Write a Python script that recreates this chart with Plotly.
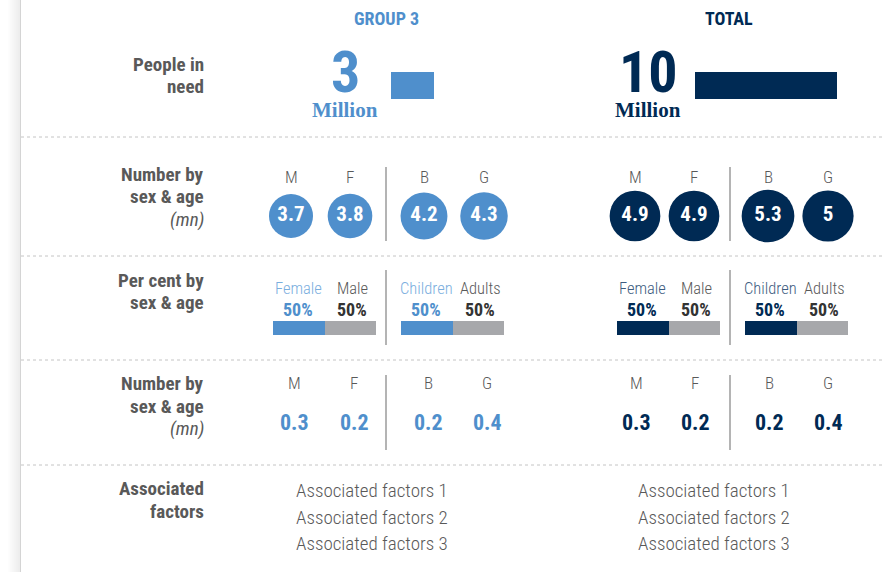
import plotly.graph_objects as go

W, H = 883, 572

# ---- data ----
GROUPS = ["GROUP 3", "TOTAL"]
PEOPLE_IN_NEED = [3, 10]  # million
SEX_AGE = ["M", "F", "B", "G"]
NUM_GROUP3 = [3.7, 3.8, 4.2, 4.3]
NUM_TOTAL = [4.9, 4.9, 5.3, 5]
PCT_LABELS = [["Female", "Male"], ["Children", "Adults"]]
PCT_GROUP3 = [[50, 50], [50, 50]]
PCT_TOTAL = [[50, 50], [50, 50]]
SMALL_GROUP3 = [0.3, 0.2, 0.2, 0.4]
SMALL_TOTAL = [0.3, 0.2, 0.2, 0.4]
FACTORS_GROUP3 = ["Associated factors 1", "Associated factors 2", "Associated factors 3"]
FACTORS_TOTAL = ["Associated factors 1", "Associated factors 2", "Associated factors 3"]
ROW_LABELS = [
    ["<b>People in</b>", "<b>need</b>"],
    ["<b>Number by</b>", "<b>sex & age</b>", "<i>(mn)</i>"],
    ["<b>Per cent by</b>", "<b>sex & age</b>"],
    ["<b>Number by</b>", "<b>sex & age</b>", "<i>(mn)</i>"],
    ["<b>Associated</b>", "<b>factors</b>"],
]

# ---- style / layout ----
BLUE = "#4f8fcc"
NAVY = "#002a54"
GREY_BAR = "#a7a8ab"
LABEL = "#595959"
COND = "Roboto Condensed, Liberation Sans Narrow, DejaVu Sans Condensed, Roboto, sans-serif"
SERIF = "Roboto Slab, Liberation Serif, serif"

group_color = [BLUE, NAVY]
hilite_color = ["#7aaede", "#3d5c80"]
header_x = [386, 729]
big_x = [345, 648]
bar_start = [391, 695]
bar_px_per_mn = 14.2
circle_x = [[291, 350, 424, 484], [635, 694, 768, 828]]
small_x = [[294, 354, 428, 487], [636, 695, 769, 828]]
sep_x = [386, 730]
pct_start = [[273, 401], [617, 745]]
pct_w = 103
factor_x = [372, 714]
row_label_y = [[64, 86], [174, 196, 219], [280, 302], [383, 406, 428], [488, 511]]
dotted_y = [137, 256, 360, 465]

nums = [NUM_GROUP3, NUM_TOTAL]
pcts = [PCT_GROUP3, PCT_TOTAL]
smalls = [SMALL_GROUP3, SMALL_TOTAL]
factors = [FACTORS_GROUP3, FACTORS_TOTAL]

fig = go.Figure()
annotations = []
shapes = []
layout_axes = {}


def ann(x, y, text, size, color, family=COND, weight=None, xanchor="center", yanchor="middle", align="center"):
    font = dict(size=size, color=color, family=family)
    if weight is not None:
        font["weight"] = weight
    annotations.append(dict(x=x, y=y, xref="x", yref="y", text=text, showarrow=False,
                            font=font, xanchor=xanchor, yanchor=yanchor, align=align))


axis_n = 2


def new_xaxis(x0_px, x1_px, rng):
    # small sub-axis placed over a pixel span, its own value scale
    global axis_n
    name = "xaxis%d" % axis_n
    layout_axes[name] = dict(domain=[x0_px / W, x1_px / W], range=rng, visible=False,
                             anchor="y", fixedrange=True)
    ref = "x%d" % axis_n
    axis_n += 1
    return ref


# left shadow
for i in range(12):
    shapes.append(dict(type="rect", xref="x", yref="y", x0=8 + i, x1=9 + i, y0=0, y1=H,
                       fillcolor="rgba(0,0,0,%.3f)" % (0.006 * (i + 1)), line_width=0, layer="below"))
shapes.append(dict(type="line", xref="x", yref="y", x0=20.5, x1=20.5, y0=0, y1=H,
                   line=dict(color="#d4d4d4", width=1)))

# dotted row separators
for y in dotted_y:
    shapes.append(dict(type="line", xref="x", yref="y", x0=21, x1=W, y0=y, y1=y,
                       line=dict(color="#c4c4c4", width=1, dash="dot")))

# row labels, one line each
for ys, lines in zip(row_label_y, ROW_LABELS):
    for y, t in zip(ys, lines):
        ann(206, y, t, 19, LABEL, xanchor="right", align="right")

for g in range(2):
    c = group_color[g]
    # header
    ann(header_x[g], 18, "<b>%s</b>" % GROUPS[g], 18, c)
    # big number + Million
    ann(big_x[g], 72, "<b>%d</b>" % PEOPLE_IN_NEED[g], 58, c)
    ann(big_x[g], 110, "<b>Million</b>", 21, c, family=SERIF)
    xr = new_xaxis(bar_start[g], bar_start[g] + 10 * bar_px_per_mn, [0, 10])
    fig.add_trace(go.Bar(x=[PEOPLE_IN_NEED[g]], y=[85.5], orientation="h", width=27,
                         marker=dict(color=c, line_width=0), xaxis=xr, yaxis="y",
                         showlegend=False, hoverinfo="skip"))

    # row 2: circles sized by area
    for x, lab in zip(circle_x[g], SEX_AGE):
        ann(x, 177, lab, 17, LABEL, weight=300)
    fig.add_trace(go.Scatter(
        x=circle_x[g], y=[216] * 4, mode="markers+text",
        marker=dict(size=nums[g], sizemode="area", sizeref=0.003814, color=c,
                    opacity=1, line_width=0),
        text=["<b>%g</b>" % v for v in nums[g]], textposition="middle center",
        textfont=dict(color="white", size=21, family=COND),
        xaxis="x", yaxis="y", showlegend=False, hoverinfo="skip", cliponaxis=False))
    shapes.append(dict(type="line", xref="x", yref="y", x0=sep_x[g], x1=sep_x[g], y0=167, y1=241,
                       line=dict(color="#8c8c8c", width=1.3)))

    # row 3: percent bars
    for b in range(2):
        s = pct_start[g][b]
        xr = new_xaxis(s, s + pct_w, [0, 100])
        vals = pcts[g][b]
        fig.add_trace(go.Bar(x=[vals[0]], y=[328], orientation="h", width=14,
                             marker=dict(color=c, line_width=0), xaxis=xr, yaxis="y",
                             showlegend=False, hoverinfo="skip"))
        fig.add_trace(go.Bar(x=[vals[1]], y=[328], orientation="h", width=14,
                             marker=dict(color=GREY_BAR, line_width=0), xaxis=xr, yaxis="y",
                             showlegend=False, hoverinfo="skip"))
        ann(s + 25, 288, PCT_LABELS[b][0], 16.5, hilite_color[g], weight=300)
        ann(s + 79, 288, PCT_LABELS[b][1], 16.5, LABEL, weight=300)
        ann(s + 25, 309, "<b>%d%%</b>" % vals[0], 18, c)
        ann(s + 79, 309, "<b>%d%%</b>" % vals[1], 18, "#333333")
    shapes.append(dict(type="line", xref="x", yref="y", x0=sep_x[g], x1=sep_x[g], y0=270, y1=345,
                       line=dict(color="#8c8c8c", width=1.3)))

    # row 4: small numbers
    for x, lab, v in zip(small_x[g], SEX_AGE, smalls[g]):
        ann(x, 383, lab, 17, LABEL, weight=300)
        ann(x, 422, "<b>%g</b>" % v, 22, c)
    shapes.append(dict(type="line", xref="x", yref="y", x0=sep_x[g], x1=sep_x[g], y0=375, y1=450,
                       line=dict(color="#8c8c8c", width=1.3)))

    # row 5: associated factors
    for y, t in zip([490, 517, 543], factors[g]):
        ann(factor_x[g], y, t, 19, LABEL, weight=300)

fig.update_layout(
    width=W, height=H,
    margin=dict(l=0, r=0, t=0, b=0),
    paper_bgcolor="white", plot_bgcolor="rgba(0,0,0,0)",
    barmode="stack", bargap=0,
    xaxis=dict(range=[0, W], visible=False, fixedrange=True),
    yaxis=dict(range=[H, 0], visible=False, fixedrange=True),
    annotations=annotations, shapes=shapes,
    showlegend=False, hovermode=False,
    **layout_axes,
)

fig.write_html("out.html", config={"displayModeBar": False},
               post_script="document.body.style.margin='0px';")
